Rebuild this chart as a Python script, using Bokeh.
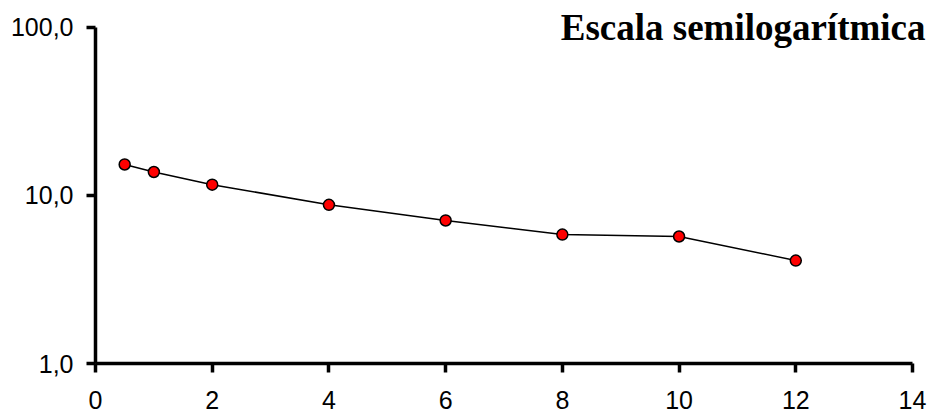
from bokeh.plotting import figure
from bokeh.models import Range1d, FixedTicker, CustomJSTickFormatter, Label, ColumnDataSource
from bokeh.embed import file_html
from bokeh.resources import INLINE

x_vals = [0.5, 1, 2, 4, 6, 8, 10, 12]
y_vals = [15.3, 13.8, 11.6, 8.8, 7.1, 5.85, 5.7, 4.1]
x_ticks = [0, 2, 4, 6, 8, 10, 12, 14]
y_ticks = [1, 10, 100]
title_text = "Escala semilogarítmica"

src = ColumnDataSource(dict(x=x_vals, y=y_vals))

p = figure(width=930, height=414, output_backend="svg", toolbar_location=None,
           y_axis_type="log", x_range=Range1d(0, 14.274), y_range=Range1d(1, 126.2),
           min_border_left=95, min_border_right=2, min_border_top=10, min_border_bottom=51)
p.outline_line_color = None
p.xgrid.visible = False
p.ygrid.visible = False
p.background_fill_color = "white"
p.border_fill_color = "white"

p.line("x", "y", source=src, line_color="black", line_width=1.5)
p.scatter("x", "y", source=src, size=11, fill_color="#FF0000", line_color="black", line_width=1.5)

for ax in (p.xaxis[0], p.yaxis[0]):
    ax.axis_line_width = 3.5
    ax.major_tick_line_width = 3.5
    ax.major_tick_out = 9
    ax.major_tick_in = 0
    ax.minor_tick_line_color = None
    ax.major_label_text_font = "Liberation Sans"
    ax.major_label_text_font_size = "25px"
    ax.major_label_text_color = "black"
    ax.axis_line_color = "black"
    ax.major_tick_line_color = "black"

p.xaxis[0].bounds = (0, 14)
p.yaxis[0].bounds = (1, 100)
p.xaxis[0].ticker = FixedTicker(ticks=x_ticks, minor_ticks=[])
p.yaxis[0].ticker = FixedTicker(ticks=y_ticks, minor_ticks=[])
p.xaxis[0].major_label_standoff = 18
p.yaxis[0].major_label_standoff = 13
p.yaxis[0].formatter = CustomJSTickFormatter(code="return tick.toFixed(1).replace('.', ',');")

lbl = Label(x=14, y=100, text=title_text, text_align="right", text_baseline="alphabetic",
            x_offset=13, y_offset=0, text_font="Liberation Serif", text_font_style="bold",
            text_font_size="37px", text_color="black")
p.add_layout(lbl)

open("out.html", "w").write(file_html(p, INLINE))
